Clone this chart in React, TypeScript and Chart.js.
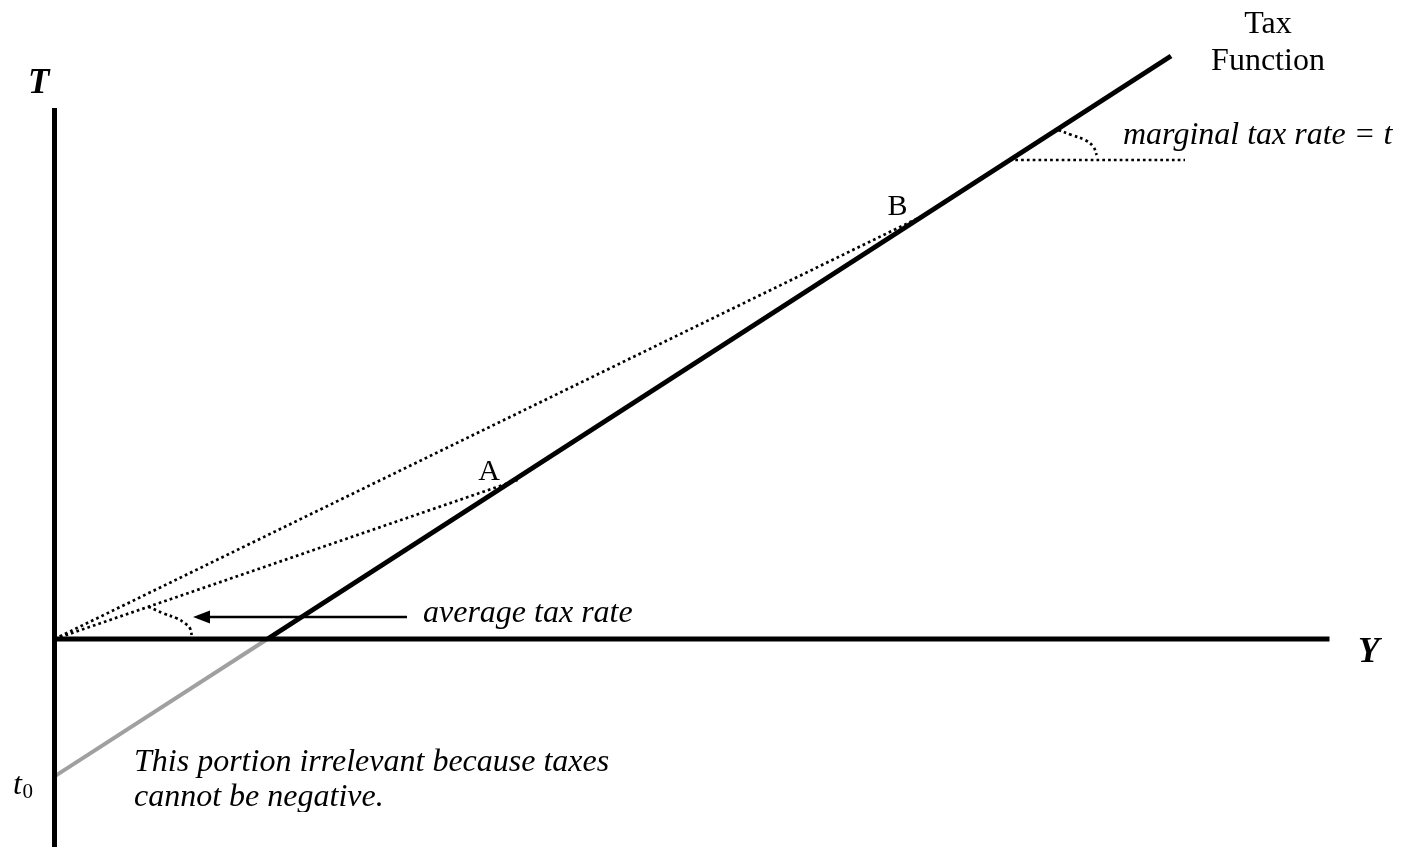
import React, { useEffect, useRef } from "react";
import { Chart, registerables } from "chart.js";

Chart.register(...registerables);

const CANVAS_W = 1404;
const CANVAS_H = 847;

// Visible window, in income (Y) and tax (T) units
const incomeRange = [-5.45, 134.95];
const taxRange = [-20.8, 63.9];

// Axes
const incomeAxisSpan = [0, 127.5]; // drawn along T = 0
const taxAxisSpan = [-20.8, 53.1]; // drawn along Y = 0

// Tax function T = t0 + t·Y: intercept, break-even income, end of drawn line
const taxFnIncome = [0, 21.3, 111.65];
const taxFnTax = [-13.74, 0, 58.3];

// Points on the tax function reached by rays from the origin
const pointA = [46.3, 15.9];
const pointB = [86.6, 42.2];

// Marginal-rate angle marker
const marginalRefIncome = [95.5, 113.05];
const marginalRefTax = 47.9;
const marginalArcIncome = [100.38, 101.72, 103.05, 103.88, 104.22];
const marginalArcTax = [50.9, 50.4, 49.9, 49.23, 48.4];

// Average-rate angle marker
const averageArcIncome = [9.38, 10.88, 12.22, 13.05, 13.55, 13.72];
const averageArcTax = [3.23, 2.57, 2.07, 1.57, 1.07, 0.4];

// Pointer arrow for the average-rate caption: tail, tip
const arrowIncome = [35.25, 13.85];
const arrowTax = 2.2;

const SERIF = "'Liberation Serif', 'Times New Roman', serif";

type Label = {
  text: string;
  x: number;
  y: number;
  font: string;
  align: CanvasTextAlign;
  clipBottom?: number;
};

const labels: Label[] = [
  { text: "T", x: -2.65, y: 54.6, font: `italic bold 35px ${SERIF}`, align: "left" },
  { text: "Y", x: 130.35, y: -2.3, font: `italic bold 35px ${SERIF}`, align: "left" },
  { text: "Tax", x: 121.35, y: 60.6, font: `32px ${SERIF}`, align: "center" },
  { text: "Function", x: 121.35, y: 56.9, font: `32px ${SERIF}`, align: "center" },
  { text: "marginal tax rate = t", x: 106.85, y: 49.5, font: `italic 32px ${SERIF}`, align: "left" },
  { text: "A", x: 43.45, y: 15.9, font: `30px ${SERIF}`, align: "center" },
  { text: "B", x: 84.3, y: 42.4, font: `30px ${SERIF}`, align: "center" },
  { text: "average tax rate", x: 36.85, y: 1.7, font: `italic 32px ${SERIF}`, align: "left" },
  { text: "This portion irrelevant because taxes", x: 7.95, y: -13.2, font: `italic 32px ${SERIF}`, align: "left" },
  { text: "cannot be negative.", x: 7.95, y: -16.7, font: `italic 32px ${SERIF}`, align: "left", clipBottom: 812 },
  { text: "t", x: -4.15, y: -15.5, font: `italic 32px ${SERIF}`, align: "left" },
  { text: "0", x: -3.2, y: -15.9, font: `21px ${SERIF}`, align: "left" },
];

const pts = (xs: number[], ys: number[]) => xs.map((x, i) => ({ x, y: ys[i] }));

const DOT = [2.7, 3.1];
const DOT_W = 2.7;

const annotationPlugin = {
  id: "diagramAnnotations",
  afterDatasetsDraw(chart: any) {
    const { ctx, scales } = chart;
    const px = (v: number) => scales.x.getPixelForValue(v);
    const py = (v: number) => scales.y.getPixelForValue(v);

    // arrowhead
    const tipX = px(arrowIncome[1]);
    const tipY = py(arrowTax);
    ctx.save();
    ctx.fillStyle = "#000";
    ctx.beginPath();
    ctx.moveTo(tipX, tipY);
    ctx.lineTo(tipX + 17, tipY - 6.5);
    ctx.lineTo(tipX + 17, tipY + 6.5);
    ctx.closePath();
    ctx.fill();
    ctx.restore();

    // text
    for (const l of labels) {
      ctx.save();
      if (l.clipBottom !== undefined) {
        ctx.beginPath();
        ctx.rect(0, 0, chart.width, l.clipBottom);
        ctx.clip();
      }
      ctx.font = l.font;
      ctx.fillStyle = "#000";
      ctx.textAlign = l.align;
      ctx.textBaseline = "alphabetic";
      ctx.fillText(l.text, px(l.x), py(l.y));
      ctx.restore();
    }
  },
};

export default function App() {
  const canvasRef = useRef<HTMLCanvasElement | null>(null);

  useEffect(() => {
    const canvas = canvasRef.current;
    if (!canvas) return;

    const line = (data: { x: number; y: number }[], extra: any = {}) => ({
      data,
      showLine: true,
      pointRadius: 0,
      pointHoverRadius: 0,
      borderColor: "#000",
      borderWidth: 5,
      fill: false,
      ...extra,
    });

    const dotted = { borderWidth: DOT_W, borderDash: DOT };

    const chart = new Chart(canvas, {
      type: "scatter",
      data: {
        datasets: [
          // income axis
          line(pts(incomeAxisSpan, [0, 0])),
          // tax axis
          line(pts([0, 0], taxAxisSpan)),
          // negative part of the tax function
          line(pts(taxFnIncome.slice(0, 2), taxFnTax.slice(0, 2)), {
            borderColor: "#a0a0a0",
            borderWidth: 4,
          }),
          // tax function
          line(pts(taxFnIncome.slice(1), taxFnTax.slice(1)), { borderWidth: 5 }),
          // ray to A
          line(pts([0, pointA[0]], [0, pointA[1]]), dotted),
          // ray to B
          line(pts([0, pointB[0]], [0, pointB[1]]), dotted),
          // horizontal reference for the marginal rate
          line(pts(marginalRefIncome, [marginalRefTax, marginalRefTax]), dotted),
          // marginal-rate arc
          line(pts(marginalArcIncome, marginalArcTax), { ...dotted, tension: 0.4 }),
          // average-rate arc
          line(pts(averageArcIncome, averageArcTax), { ...dotted, tension: 0.4 }),
          // arrow shaft
          line(pts([arrowIncome[0], arrowIncome[1] + 1.6], [arrowTax, arrowTax]), {
            borderWidth: 2.5,
          }),
        ],
      },
      options: {
        responsive: false,
        animation: false,
        devicePixelRatio: 1,
        layout: { padding: 0 },
        events: [],
        plugins: {
          legend: { display: false },
          tooltip: { enabled: false },
        },
        scales: {
          x: { type: "linear", min: incomeRange[0], max: incomeRange[1], display: false },
          y: { type: "linear", min: taxRange[0], max: taxRange[1], display: false },
        },
      },
      plugins: [annotationPlugin],
    });

    return () => chart.destroy();
  }, []);

  return (
    <div style={{ position: "fixed", left: 0, top: 0, width: CANVAS_W, height: CANVAS_H, background: "#fff" }}>
      <canvas ref={canvasRef} width={CANVAS_W} height={CANVAS_H} style={{ display: "block" }} />
    </div>
  );
}
